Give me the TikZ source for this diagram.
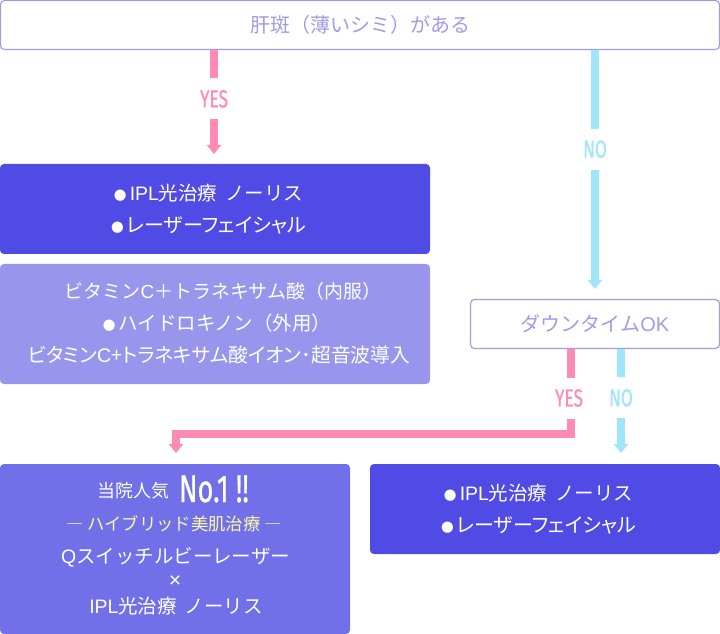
\documentclass[tikz,border=0pt]{standalone}
\usepackage{fontspec}
\usetikzlibrary{arrows.meta}
\setmainfont{Noto Sans CJK JP}
\newfontfamily\lat{Liberation Sans}
\newfontfamily\palt[RawFeature=+palt]{Noto Sans CJK JP}
\newfontfamily\condfont[FakeStretch=0.7,FakeBold=0.5]{Fira Sans}
\definecolor{qborder}{HTML}{A79BDF}
\definecolor{qtext}{HTML}{A09CE6}
\definecolor{deep}{HTML}{4F4BE4}
\definecolor{mid}{HTML}{7270E8}
\definecolor{pale}{HTML}{9896EC}
\definecolor{pinkc}{HTML}{FF8AB3}
\definecolor{skyc}{HTML}{A0E6FB}
\definecolor{hybrid}{HTML}{FBF7A8}
\newcommand{\fs}[1]{\fontsize{#1}{#1}\selectfont}
\newcommand{\dotb}{{\fs{9.5pt}●}\hspace{2.5pt}}
\tikzset{
  x=0.75pt,y=-0.75pt,
  every node/.style={inner sep=0pt,outer sep=0pt},
  qbox/.style={draw=qborder,line width=0.9pt,fill=white,rounded corners=3pt},
  abox/.style={rounded corners=3pt},
  qlabel/.style={text=qtext,font=\fs{15pt}},
  atext/.style={text=white,font=\fs{14.6pt}},
  ptext/.style={text=white,font=\palt\fs{15pt}},
  flow/.style={line width=6pt,-{Triangle[width=10.5pt,length=6.75pt]}},
  lab/.style={fill=white,font=\condfont\fs{18.5pt},inner xsep=2pt,minimum height=30.75pt},
}
\begin{document}
\begin{tikzpicture}
\useasboundingbox (0,0) rectangle (720,634);
\fill[white] (0,0) rectangle (720,634);
% boxes
\node[qbox,minimum width=539.25pt,minimum height=36.75pt] (q1) at (360,25) {};
\node[qlabel] (q1t) at (360,25) {肝斑（薄いシミ）がある};
\node[abox,fill=deep,minimum width=322.5pt,minimum height=67.5pt] (t1) at (215,209) {};
\node[abox,fill=pale,minimum width=322.5pt,minimum height=90pt] (t2) at (215,324) {};
\node[qbox,minimum width=186.75pt,minimum height=36.75pt] (q2) at (595,324) {};
\node[abox,fill=mid,minimum width=262.5pt,minimum height=127.5pt] (t3) at (175,549) {};
\node[abox,fill=deep,minimum width=262.5pt,minimum height=67.5pt] (t4) at (545,509) {};
% box texts
\node[qlabel] (q2t) at (595,324) {ダウンタイム{\lat OK}};
\node[atext] (t1a) at (208.5,193) {\dotb{\lat IPL}光治療\hspace{6pt}ノーリス};
\node[ptext] (t1b) at (208.5,225) {\dotb レーザーフェイシャル};
\node[atext,font=\fs{14.2pt}] (t2a) at (223,291) {ビタミン{\lat C}＋トラネキサム酸（内服）};
\node[atext] (t2b) at (217,323) {\dotb ハイドロキノン（外用）};
\node[ptext,font=\palt\fs{14.8pt}] (t2c) at (219,355) {ビタミン{\lat C}+トラネキサム酸イオン･超音波導入};
\node[text=white,font=\fs{13.5pt}] (t3a) at (133,491) {当院人気};
\node[text=white,font=\condfont\fs{29pt}] (t3b) at (214,489) {No.1 !!};
\node[text=hybrid,font=\fs{13pt}] (t3c) at (174,524) {― ハイブリッド美肌治療 ―};
\node[atext] (t3d) at (175.5,557) {{\lat Q}スイッチルビーレーザー};
\node[atext,font=\lat\fs{16pt}] (t3e) at (175,582) {×};
\node[atext] (t3f) at (176,606) {{\lat IPL}光治療\hspace{6pt}ノーリス};
\node[atext] (t4a) at (538.5,493) {\dotb{\lat IPL}光治療\hspace{6pt}ノーリス};
\node[ptext] (t4b) at (538.5,525) {\dotb レーザーフェイシャル};
% connectors
\coordinate (c1) at (214,50);
\coordinate (c2) at (595,50);
\coordinate (c3) at (571,349);
\coordinate (c4) at (621,349);
\coordinate (e1) at (214,154);
\coordinate (e2) at (595,289);
\coordinate (e3) at (176,453);
\coordinate (e4) at (621,453);
\draw[flow,pinkc] (c1) -- (e1) node[lab,pos=0.47,text=pinkc] (ly1) {YES};
\draw[flow,skyc] (c2) -- (e2) node[lab,pos=0.415,text=skyc] (ln1) {NO};
\draw[flow,pinkc] (c3) -- (571,434) -- (176,434) -- (e3);
\node[lab,text=pinkc] (ly2) at (569,398) {YES};
\draw[flow,skyc] (c4) -- (e4) node[lab,pos=0.47,text=skyc] (ln2) {NO};
\end{tikzpicture}
\end{document}
